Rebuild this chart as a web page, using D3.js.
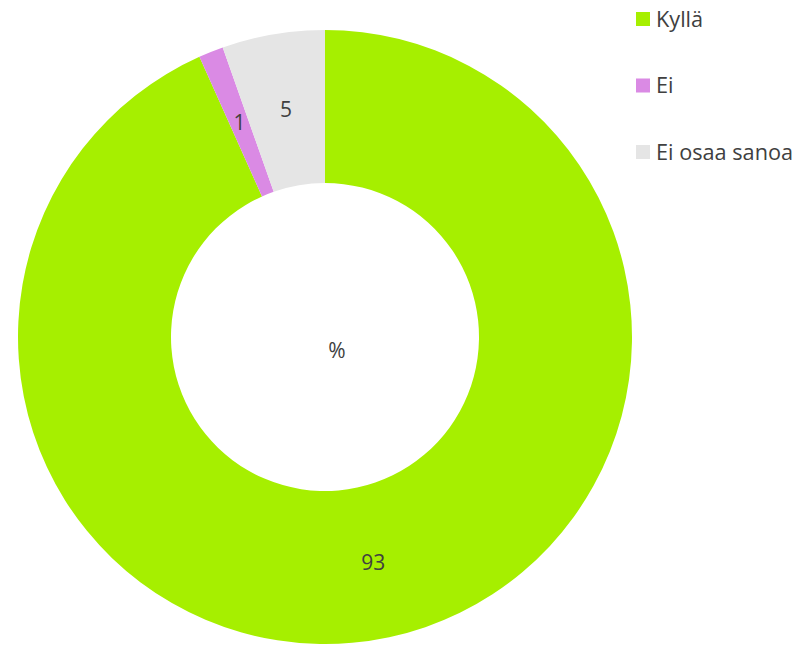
<!DOCTYPE html>
<html>
<head>
<meta charset="utf-8">
<script src="https://cdn.jsdelivr.net/npm/d3@7"></script>
<style>
  body { margin: 0; background: #fff; }
  text { font-family: "Open Sans", sans-serif; fill: #404040; }
</style>
</head>
<body>
<svg width="809" height="645"></svg>
<script>
// shares, labels show them rounded
var categories = ['Kyllä', 'Ei', 'Ei osaa sanoa'];
var values = [93.2, 1.3, 5.4];
var colors = ['#a6ef00', '#da8ae4', '#e5e5e5'];
var centerLabel = '%';

var svg = d3.select('svg');
var cx = 325, cy = 337, outerR = 307, innerR = 154;

var data = categories.map(function(c, i) { return {name: c, value: values[i]}; });

var pie = d3.pie().sort(null).value(function(d) { return d.value; });
var arc = d3.arc().innerRadius(innerR).outerRadius(outerR);
var labelArc = d3.arc().innerRadius((innerR + outerR) / 2).outerRadius((innerR + outerR) / 2);
var color = d3.scaleOrdinal().domain(categories).range(colors);

var g = svg.append('g').attr('transform', 'translate(' + cx + ',' + cy + ')');

var slices = g.selectAll('g.slice')
  .data(pie(data))
  .enter().append('g')
    .attr('class', 'slice');

slices.append('path')
  .attr('d', arc)
  .attr('fill', function(d) { return color(d.data.name); });

slices.append('text')
  .attr('transform', function(d) { return 'translate(' + labelArc.centroid(d) + ')'; })
  .attr('text-anchor', 'middle')
  .attr('dy', '0.35em')
  .style('font-size', '21px')
  .text(function(d) { return Math.round(d.data.value); });

svg.append('text')
  .attr('x', 337).attr('y', 351)
  .attr('text-anchor', 'middle')
  .attr('dy', '0.35em')
  .style('font-size', '21px')
  .text(centerLabel);

// legend
var legend = svg.append('g').attr('class', 'legend');
var ly = d3.scalePoint().domain(categories).range([19, 152]);

var item = legend.selectAll('g')
  .data(categories)
  .enter().append('g')
    .attr('transform', function(d) { return 'translate(636,' + ly(d) + ')'; });

item.append('rect')
  .attr('x', 0).attr('y', -7)
  .attr('width', 14).attr('height', 14)
  .attr('fill', function(d) { return color(d); });

item.append('text')
  .attr('x', 20).attr('y', 0)
  .attr('dy', '0.36em')
  .style('font-size', '21.7px')
  .text(function(d) { return d; });
</script>
</body>
</html>
